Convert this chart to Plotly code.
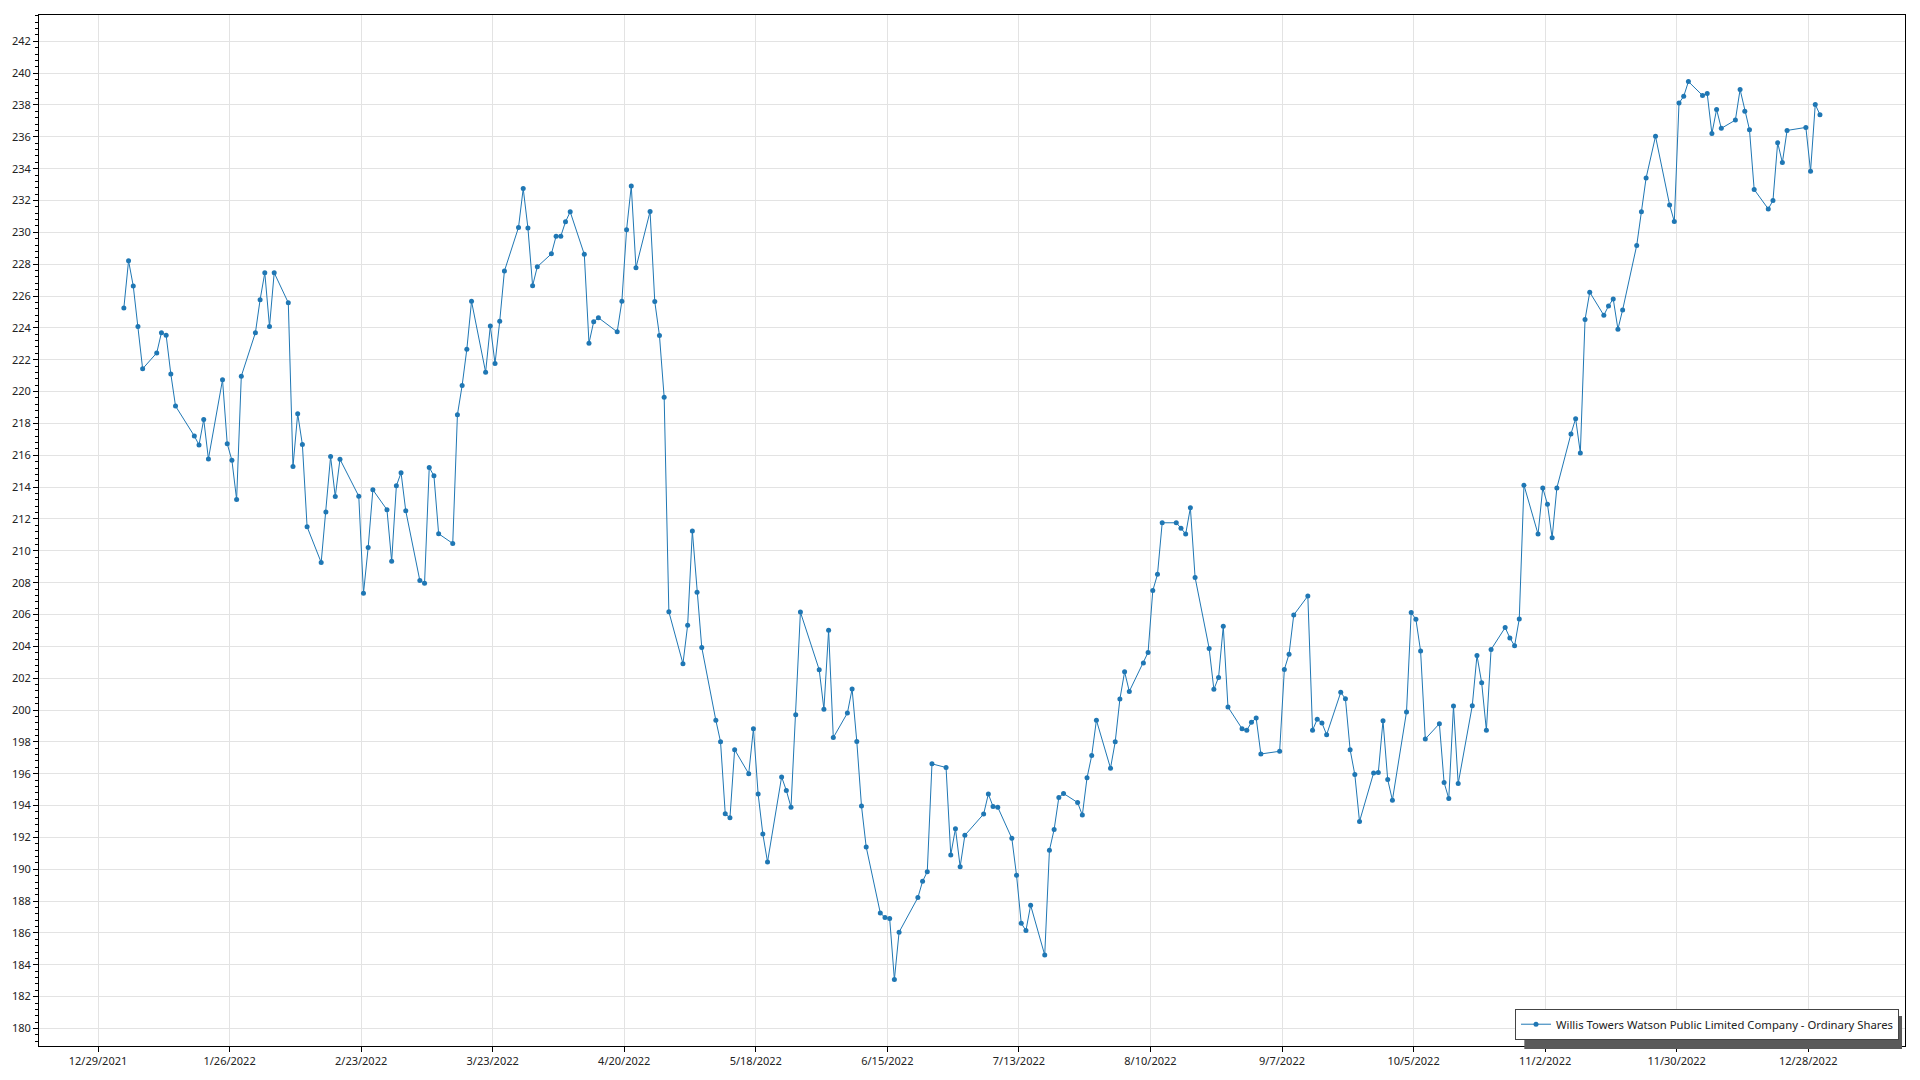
import plotly.graph_objects as go

# Trading days (day of month) and closing prices, 2022
jan_days = [3, 4, 5, 6, 7, 10, 11, 12, 13, 14, 18, 19, 20, 21, 24, 25, 26, 27, 28, 31]
jan_vals = [225.25, 228.22, 226.63, 224.08, 221.43, 222.43, 223.70, 223.54, 221.10, 219.09,
            217.21, 216.65, 218.25, 215.77, 220.74, 216.73, 215.68, 213.22, 220.97, 223.70]

feb_days = [1, 2, 3, 4, 7, 8, 9, 10, 11, 14, 15, 16, 17, 18, 22, 23, 24, 25, 28]
feb_vals = [225.77, 227.46, 224.08, 227.46, 225.58, 215.29, 218.61, 216.67, 211.51, 209.27,
            212.43, 215.92, 213.41, 215.75, 213.43, 207.33, 210.20, 213.83, 212.58]

mar_days = [1, 2, 3, 4, 7, 8, 9, 10, 11, 14, 15, 16, 17, 18, 21, 22, 23, 24, 25, 28, 29, 30, 31]
mar_vals = [209.34, 214.08, 214.90, 212.51, 208.13, 207.96, 215.23, 214.71, 211.07, 210.46,
            218.55, 220.38, 222.66, 225.67, 221.22, 224.12, 221.76, 224.42, 227.57, 230.31,
            232.75, 230.28, 226.65]

apr_days = [1, 4, 5, 6, 7, 8, 11, 12, 13, 14, 18, 19, 20, 21, 22, 25, 26, 27, 28, 29]
apr_vals = [227.84, 228.65, 229.76, 229.76, 230.66, 231.29, 228.62, 223.04, 224.39, 224.64,
            223.75, 225.68, 230.17, 232.91, 227.78, 231.31, 225.65, 223.52, 219.64, 206.17]

may_days = [2, 3, 4, 5, 6, 9, 10, 11, 12, 13, 16, 17, 18, 19, 20, 23, 24, 25, 26, 27, 31]
may_vals = [202.91, 205.33, 211.25, 207.40, 203.93, 199.36, 198.01, 193.49, 193.23, 197.51,
            196.00, 198.83, 194.72, 192.21, 190.46, 195.80, 194.95, 193.90, 199.70, 206.15,
            202.53]

jun_days = [1, 2, 3, 6, 7, 8, 9, 10, 13, 14, 15, 16, 17, 21, 22, 23, 24, 27, 28, 29, 30]
jun_vals = [200.05, 205.01, 198.27, 199.81, 201.32, 198.02, 193.97, 191.40, 187.26, 186.97,
            186.91, 183.07, 186.05, 188.22, 189.24, 189.85, 196.62, 196.39, 190.90, 192.55,
            190.16]

jul_days = [1, 5, 6, 7, 8, 11, 12, 13, 14, 15, 18, 19, 20, 21, 22, 25, 26, 27, 28, 29]
jul_vals = [192.13, 193.47, 194.72, 193.94, 193.90, 191.94, 189.62, 186.61, 186.15, 187.74,
            184.61, 191.19, 192.50, 194.51, 194.76, 194.19, 193.40, 195.74, 197.14, 199.36]

aug_days = [1, 2, 3, 4, 5, 8, 9, 10, 11, 12, 15, 16, 17, 18, 19, 22, 23, 24, 25, 26, 29, 30, 31]
aug_vals = [196.35, 198.00, 200.69, 202.40, 201.17, 202.96, 203.62, 207.50, 208.52, 211.76,
            211.76, 211.42, 211.05, 212.70, 208.33, 203.87, 201.30, 202.05, 205.26, 200.19,
            198.83, 198.73, 199.23]

sep_days = [1, 2, 6, 7, 8, 9, 12, 13, 14, 15, 16, 19, 20, 21, 22, 23, 26, 27, 28, 29, 30]
sep_vals = [199.50, 197.24, 197.41, 202.55, 203.51, 205.97, 207.16, 198.73, 199.42, 199.19,
            198.45, 201.11, 200.71, 197.51, 195.95, 193.00, 196.05, 196.07, 199.33, 195.63,
            194.34]

oct_days = [3, 4, 5, 6, 7, 10, 11, 12, 13, 14, 17, 18, 19, 20, 21, 24, 25, 26, 27, 28, 31]
oct_vals = [199.88, 206.12, 205.70, 203.70, 198.18, 199.14, 195.45, 194.44, 200.25, 195.38,
            200.27, 203.43, 201.71, 198.73, 203.80, 205.18, 204.53, 204.03, 205.72, 214.12,
            211.05]

nov_days = [1, 2, 3, 4, 7, 8, 9, 10, 11, 14, 15, 16, 17, 18, 21, 22, 23, 25, 28, 29, 30]
nov_vals = [213.95, 212.93, 210.82, 213.95, 217.34, 218.30, 216.15, 224.52, 226.24, 224.79,
            225.38, 225.82, 223.92, 225.13, 229.18, 231.29, 233.42, 236.03, 231.72, 230.68,
            238.12]

dec_days = [1, 2, 5, 6, 7, 8, 9, 12, 13, 14, 15, 16, 19, 20, 21, 22, 23, 27, 28, 29, 30]
dec_vals = [238.54, 239.47, 238.60, 238.72, 236.20, 237.72, 236.53, 237.05, 238.97, 237.60,
            236.45, 232.69, 231.47, 232.00, 235.63, 234.38, 236.40, 236.59, 233.84, 238.03,
            237.39]

series_name = "Willis Towers Watson Public Limited Company - Ordinary Shares"

months = [jan_days, feb_days, mar_days, apr_days, may_days, jun_days,
          jul_days, aug_days, sep_days, oct_days, nov_days, dec_days]
month_vals = [jan_vals, feb_vals, mar_vals, apr_vals, may_vals, jun_vals,
              jul_vals, aug_vals, sep_vals, oct_vals, nov_vals, dec_vals]

dates, prices = [], []
for m, (days, vals) in enumerate(zip(months, month_vals), start=1):
    for d, v in zip(days, vals):
        dates.append(f"2022-{m:02d}-{d:02d} 12:00")
        prices.append(v)

BLUE = "#1f77b4"
GRID = "#e3e3e3"
FONT = "Noto Sans, Open Sans, sans-serif"

fig = go.Figure()
fig.add_trace(go.Scatter(
    x=dates, y=prices, mode="lines+markers", name=series_name,
    line=dict(color=BLUE, width=1),
    marker=dict(color=BLUE, size=5),
))

# legend drop shadow (drawn beneath the legend box)
fig.add_shape(type="rect", xref="paper", yref="paper",
              x0=0.7960, x1=0.9984, y0=-0.0029, y1=0.0290,
              fillcolor="#5a5a5a", line=dict(width=0), layer="above")

fig.update_layout(
    width=1920, height=1080,
    margin=dict(l=39, r=15, t=15, b=31),
    paper_bgcolor="white", plot_bgcolor="white",
    font=dict(family=FONT, size=11, color="#222"),
    showlegend=True,
    legend=dict(
        x=0.9968, y=0.0061, xanchor="right", yanchor="bottom",
        bgcolor="white", bordercolor="#444", borderwidth=1,
        font=dict(family=FONT, size=11.3, color="#222"),
        itemwidth=30,
    ),
    xaxis=dict(
        type="date",
        range=["2021-12-16 10:34", "2023-01-17 14:24"],
        tick0="2021-12-29", dtick=28 * 86400000,
        tickformat="%-m/%-d/%Y",
        showgrid=True, gridcolor=GRID, gridwidth=1,
        showline=True, linecolor="black", linewidth=1, mirror=True,
        ticks="outside", ticklen=5, tickcolor="black",
        zeroline=False,
    ),
    yaxis=dict(
        range=[178.9, 243.65],
        dtick=2, tick0=180,
        showgrid=True, gridcolor=GRID, gridwidth=1,
        showline=True, linecolor="black", linewidth=1, mirror=True,
        ticks="outside", ticklen=5, tickcolor="black",
        minor=dict(dtick=0.4, tick0=180, ticks="outside", ticklen=3,
                   tickcolor="black", showgrid=False),
        zeroline=False,
    ),
)

fig.write_html("out.html",
               config={"displayModeBar": False},
               post_script="document.body.style.margin='0';document.body.style.padding='0';")
